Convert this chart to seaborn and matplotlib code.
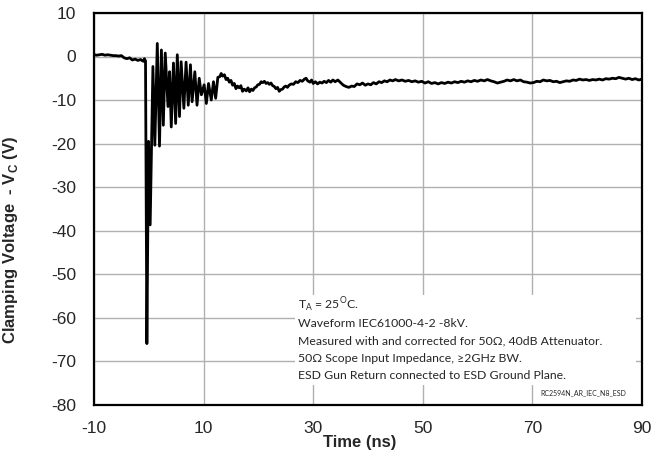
import matplotlib
matplotlib.use("Agg")
import matplotlib.pyplot as plt
import seaborn as sns
import pandas as pd
from matplotlib.patches import Rectangle

# ---- data ----
time_pre = [-10.0, -9.5, -9.0, -8.5, -8.0, -7.5, -7.0, -6.5, -6.0, -5.5, -5.0, -4.5,
            -4.0, -3.5, -3.0, -2.5, -2.0, -1.5, -1.0, -0.8]
volt_pre = [0.4, 0.3, 0.4, 0.5, 0.3, 0.4, 0.3, 0.2, 0.2, 0.1, 0.2, -0.3,
            -0.5, -0.3, -0.8, -0.6, -0.9, -0.7, -1.1, -0.5]

time_ring = [-0.6, -0.35, -0.05, 0.25, 0.75, 1.1, 1.55, 1.95, 2.3, 2.65, 3.0, 3.5,
             3.8, 4.1, 4.5, 4.9, 5.2, 5.6, 5.9, 6.4, 6.8, 7.2, 7.6, 7.9, 8.4, 8.8,
             9.2, 9.6, 10.1, 10.5, 10.9, 11.4, 11.8, 12.2, 12.6]
volt_ring = [-1.0, -66.0, -19.5, -38.7, -2.3, -20.4, 3.0, -20.6, 1.5, -15.8, 0.8, -11.5,
             -3.5, -16.2, -1.5, -15.4, 0.4, -13.8, -1.2, -11.9, -1.3, -11.2, -1.9, -10.4,
             -3.5, -11.2, -5.0, -8.8, -6.5, -10.8, -6.2, -10.0, -5.8, -9.6, -4.8]

time_tail = [13.0, 13.2, 13.5, 13.8, 14.1, 14.4, 14.7, 15.0, 15.3, 15.6, 15.9, 16.2,
             16.5, 16.8, 17.1, 17.4, 17.8, 18.1, 18.4, 18.7, 19.0, 19.3, 19.6, 19.9,
             20.2, 20.5, 20.8, 21.1, 21.4, 21.7, 22.0, 22.3, 22.6, 22.9, 23.2, 23.5,
             23.8, 24.1, 24.4, 24.7, 25.0, 25.3, 25.6, 26.0, 26.4, 26.8, 27.2, 27.6,
             28.0, 28.4, 28.7, 29.0, 29.4, 29.7, 30.0, 30.4, 30.8, 31.2, 31.6, 32.0,
             32.4, 32.8, 33.2, 33.6, 34.0, 34.5, 35.0, 35.5, 36.0, 36.5, 37.0, 37.5,
             38.0, 38.5, 39.0, 39.5, 40.0, 40.5, 41.0, 41.5, 42.0, 42.5, 43.0, 43.5,
             44.0, 44.5, 45.0, 45.6, 46.2, 46.8, 47.4, 48.0, 48.6, 49.2, 49.8, 50.4,
             51.0, 51.6, 52.2, 52.8, 53.4, 54.0, 54.6, 55.2, 55.8, 56.4, 57.0, 57.6,
             58.2, 58.8, 59.4, 60.0, 60.6, 61.2, 61.8, 62.4, 63.0, 63.6, 64.2, 64.8,
             65.4, 66.0, 66.6, 67.2, 67.8, 68.4, 69.0, 69.6, 70.2, 70.8, 71.4, 72.0,
             72.6, 73.2, 73.8, 74.4, 75.0, 75.6, 76.2, 76.8, 77.4, 78.0, 78.6, 79.2,
             79.8, 80.4, 81.0, 81.6, 82.2, 82.8, 83.4, 84.0, 84.6, 85.2, 85.8, 86.4,
             87.0, 87.6, 88.2, 88.8, 89.4, 90.0]
volt_tail = [-4.6, -3.9, -4.5, -4.2, -5.3, -5.0, -5.9, -5.5, -6.6, -6.2, -7.4, -6.8,
             -7.2, -6.7, -8.0, -7.5, -7.9, -7.2, -8.1, -7.5, -7.8, -7.2, -7.0, -6.5,
             -6.4, -5.8, -6.0, -5.7, -6.2, -6.0, -6.4, -6.1, -6.7, -6.9, -7.4, -7.1,
             -8.0, -7.6, -7.5, -7.0, -6.8, -7.1, -6.6, -6.3, -6.4, -5.8, -6.0, -5.5,
             -5.7, -5.2, -5.0, -5.6, -5.9, -5.4, -6.2, -5.8, -6.3, -5.9, -6.1, -5.7,
             -6.0, -5.5, -5.9, -5.4, -5.8, -5.4, -6.0, -6.6, -6.9, -7.1, -6.8, -6.9,
             -6.3, -6.5, -6.1, -6.6, -6.3, -6.5, -6.0, -6.3, -5.8, -6.0, -5.6, -5.8,
             -5.4, -5.6, -5.3, -5.6, -5.4, -5.7, -5.5, -5.8, -5.6, -5.9, -5.7, -6.1,
             -5.8, -6.2, -6.0, -6.3, -6.0, -6.2, -5.9, -6.1, -5.8, -6.0, -5.7, -5.9,
             -5.6, -5.8, -5.5, -5.7, -5.4, -5.6, -5.3, -5.6, -5.8, -6.1, -5.9, -5.7,
             -5.4, -5.6, -5.3, -5.6, -5.4, -5.8, -5.9, -6.1, -6.0, -5.7, -5.8, -5.4,
             -5.6, -5.5, -5.8, -5.7, -6.0, -5.8, -5.6, -5.7, -5.4, -5.5, -5.2, -5.4,
             -5.3, -5.5, -5.3, -5.4, -5.2, -5.4, -5.1, -5.2, -5.0, -5.1, -4.8, -5.0,
             -5.2, -5.0, -5.3, -5.1, -5.4, -5.2]

x_ticks = [-10, 10, 30, 50, 70, 90]
y_ticks = [10, 0, -10, -20, -30, -40, -50, -60, -70, -80]

notes = [
    r"T$_\mathregular{A}$ = 25$^\mathregular{O}$C.",
    "Waveform IEC61000-4-2 -8kV.",
    "Measured with and corrected for 50Ω, 40dB Attenuator.",
    "50Ω Scope Input Impedance, ≥2GHz BW.",
    "ESD Gun Return connected to ESD Ground Plane.",
]
tag = "RC2594N_AR_IEC_N8_ESD"

df = pd.DataFrame({"t": time_pre + time_ring + time_tail,
                   "v": volt_pre + volt_ring + volt_tail})

# ---- plot ----
sns.set_style("white")
plt.rcParams["font.family"] = ["Liberation Sans", "DejaVu Sans"]

fig = plt.figure(figsize=(6.65, 4.59), dpi=100)
ax = fig.add_axes([94 / 665, 1 - 404.5 / 459, (642 - 94) / 665, (404.5 - 13) / 459])

ax.grid(True, color="#b0b0b0", linewidth=1.0, zorder=0)
ax.set_axisbelow(True)

sns.lineplot(data=df, x="t", y="v", ax=ax, color="black", linewidth=2.0,
             estimator=None, sort=False, zorder=3)

ax.set_xlim(-10, 90)
ax.set_ylim(-80, 10)
ax.set_xticks(x_ticks)
ax.set_yticks(y_ticks)
ax.set_xticklabels([str(v) for v in x_ticks])
ax.set_yticklabels([str(v) for v in y_ticks])
ax.tick_params(axis="both", length=0, labelsize=12.5)
ax.tick_params(axis="y", pad=13)
ax.tick_params(axis="x", pad=12)

for s in ax.spines.values():
    s.set_color("black")
    s.set_linewidth(1.6)

ax.set_xlabel("Time (ns)", fontsize=12, fontweight="bold")
ax.set_ylabel(r"Clamping Voltage  - V$_\mathregular{C}$ (V)", fontsize=12, fontweight="bold")
ax.xaxis.set_label_coords(0.485, -0.077)
ax.yaxis.set_label_coords(-0.135, 0.42)

# white note boxes (cover grid)
ax.add_patch(Rectangle((26.7, -75.5), 62.2, 20.7, facecolor="white", edgecolor="none", zorder=1))
ax.add_patch(Rectangle((70.8, -79.6), 18.1, 4.2, facecolor="white", edgecolor="none", zorder=1))

note_font = ["Lato", "DejaVu Sans"]
y0 = -57.3
for i, line in enumerate(notes):
    ax.text(27.3, y0 - i * 4.02, line, fontsize=8.8, family=note_font,
            va="center", ha="left", zorder=4)
ax.text(79.3, -77.4, tag, fontsize=5.0, family=note_font, va="center", ha="center", zorder=4)

fig.savefig("out.png", dpi=100)
